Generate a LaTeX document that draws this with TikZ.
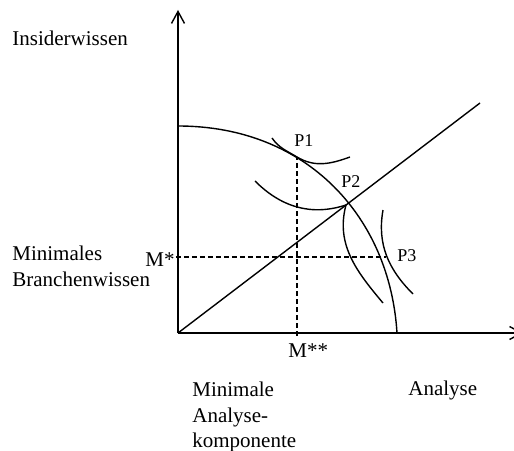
\documentclass[tikz,border=0pt]{standalone}
\usepackage{fontspec}
\setmainfont{Liberation Serif}
\usetikzlibrary{arrows.meta}

\begin{document}
\begin{tikzpicture}[x=0.5pt, y=0.5pt,
        axis/.style={line width=0.7pt, -{Straight Barb[length=6pt,width=6.5pt]}},
        curve/.style={line width=0.7pt},
        guide/.style={line width=0.7pt, dash pattern=on 2.5pt off 1.5pt},
        lbl/.style={inner sep=0pt, font=\fontsize{10.5}{12.8}\selectfont, align=left},
        ptlbl/.style={inner sep=0pt, font=\fontsize{9}{11}\selectfont}]

        \useasboundingbox (-178,-117) rectangle (336,333);

        \coordinate (o) at (0,0);
        \coordinate (ytip) at (0,323);
        \coordinate (xtip) at (345,0);
        \coordinate (p1) at (119,176);
        \coordinate (p2) at (168,128);
        \coordinate (p3) at (208,76);

        % axes
        \draw[axis] (o) -- (ytip);
        \draw[axis] (o) -- (xtip);

        % frontier and ray
        \draw[curve] (0,207) .. controls (130,207) and (212,115) .. (219,0);
        \draw[curve] (o) -- (302,230);

        % indifference curves
        \draw[curve] (94,195) to[out=-55, in=149] (p1) to[out=-31, in=200] (172,176);
        \draw[curve] (77,152) to[out=-45, in=198] (p2);
        \draw[curve] (p2) to[out=-105, in=130] (205,30);
        \draw[curve] (205,123) to[out=-100, in=135] (235,39);

        % guides
        \draw[guide] (119,-3) -- (p1);
        \draw[guide] (-2,76) -- (p3);

        \node[lbl, anchor=base west] (insider) at (-166,287) {Insiderwissen};
        \node[lbl, anchor=north west] (branche) at (-166,87) {Minimales\\Branchenwissen};
        \node[lbl, anchor=base east] (mstar) at (-3,67) {M*};
        \node[lbl, anchor=base west] (mstarstar) at (110,-24) {M**};
        \node[lbl, anchor=north west] (minana) at (14,-48.5) {Minimale\\Analyse-\\komponente};
        \node[lbl, anchor=base west] (analyse) at (230,-62) {Analyse};

        \node[ptlbl, anchor=base west] (p1lbl) at (116,186) {P1};
        \node[ptlbl, anchor=base west] (p2lbl) at (163,146) {P2};
        \node[ptlbl, anchor=base west] (p3lbl) at (219,72) {P3};

\end{tikzpicture}
\end{document}
